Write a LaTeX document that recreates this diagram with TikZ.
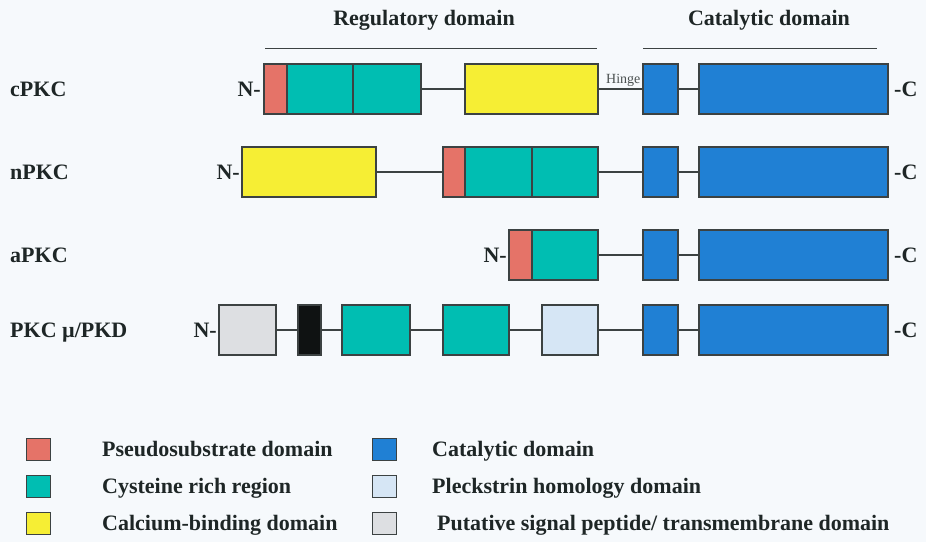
\documentclass[tikz,border=0pt]{standalone}
\usepackage{fontspec}
\setmainfont{Liberation Serif}
\definecolor{bgc}{RGB}{246,249,252}
\definecolor{txt}{RGB}{30,38,38}
\definecolor{psc}{RGB}{229,115,104}
\definecolor{cys}{RGB}{0,190,178}
\definecolor{cal}{RGB}{246,238,52}
\definecolor{cat}{RGB}{32,128,212}
\definecolor{phd}{RGB}{214,230,245}
\definecolor{sig}{RGB}{221,223,226}
\definecolor{blk}{RGB}{15,18,18}
\definecolor{edge}{RGB}{60,66,66}
\tikzset{
  dom/.style={draw=edge, line width=1.1pt, inner sep=0pt, outer sep=0pt, minimum height=50pt, anchor=west},
  sw/.style={draw=edge, line width=0.9pt, inner sep=0pt, outer sep=0pt, minimum width=24pt, minimum height=22pt},
  link/.style={draw=edge, line width=1.1pt},
  rule/.style={draw=edge, line width=0.9pt},
  lbl/.style={text=txt, font=\fontsize{22}{26}\selectfont\bfseries, inner sep=0pt},
  sml/.style={text=txt!80, font=\fontsize{14}{16}\selectfont, inner sep=0pt}
}
\begin{document}
\begin{tikzpicture}[x=1pt,y=-1pt]
\fill[bgc] (0,0) rectangle (926,542);
\path[use as bounding box] (0,0) rectangle (926,542);
% headers
\node[lbl, anchor=base] (hreg) at (424,25) {Regulatory domain};
\node[lbl, anchor=base] (hcat) at (769,25) {Catalytic domain};
\coordinate (r1) at (265,48); \coordinate (r2) at (597,48);
\coordinate (r3) at (643,48); \coordinate (r4) at (877,48);
\draw[rule] (r1) -- (r2);
\draw[rule] (r3) -- (r4);
% row labels
\node[lbl, anchor=base west] (lc) at (10,96) {cPKC};
\node[lbl, anchor=base west] (ln) at (10,179) {nPKC};
\node[lbl, anchor=base west] (la) at (10,262) {aPKC};
\node[lbl, anchor=base west] (lp) at (10,337) {PKC µ/PKD};
% cPKC
\node[lbl, anchor=base east] (cN) at (261,96) {N-};
\node[dom, fill=psc, minimum width=23pt] (cps) at (264,89) {};
\node[dom, fill=cys, minimum width=66pt] (cc1) at (287,89) {};
\node[dom, fill=cys, minimum width=68pt] (cc2) at (353,89) {};
\node[dom, fill=cal, minimum width=133pt] (ccal) at (465,89) {};
\node[dom, fill=cat, minimum width=35pt] (cb1) at (643,89) {};
\node[dom, fill=cat, minimum width=189pt] (cb2) at (699,89) {};
\node[lbl, anchor=base west] (cC) at (894,96) {-C};
\draw[link] (cc2.east) -- (ccal.west);
\draw[link] (ccal.east) -- (cb1.west);
\draw[link] (cb1.east) -- (cb2.west);
\node[sml, anchor=base west] (hinge) at (606,83) {Hinge};
% nPKC
\node[lbl, anchor=base east] (nN) at (240,179) {N-};
\node[dom, fill=cal, minimum width=134pt] (ncal) at (242,172) {};
\node[dom, fill=psc, minimum width=22pt] (nps) at (443,172) {};
\node[dom, fill=cys, minimum width=67pt] (nc1) at (465,172) {};
\node[dom, fill=cys, minimum width=66pt] (nc2) at (532,172) {};
\node[dom, fill=cat, minimum width=35pt] (nb1) at (643,172) {};
\node[dom, fill=cat, minimum width=189pt] (nb2) at (699,172) {};
\node[lbl, anchor=base west] (nC) at (894,179) {-C};
\draw[link] (ncal.east) -- (nps.west);
\draw[link] (nc2.east) -- (nb1.west);
\draw[link] (nb1.east) -- (nb2.west);
% aPKC
\node[lbl, anchor=base east] (aN) at (507,262) {N-};
\node[dom, fill=psc, minimum width=23pt] (aps) at (509,255) {};
\node[dom, fill=cys, minimum width=66pt] (ac) at (532,255) {};
\node[dom, fill=cat, minimum width=35pt] (ab1) at (643,255) {};
\node[dom, fill=cat, minimum width=189pt] (ab2) at (699,255) {};
\node[lbl, anchor=base west] (aC) at (894,262) {-C};
\draw[link] (ac.east) -- (ab1.west);
\draw[link] (ab1.east) -- (ab2.west);
% PKC mu / PKD
\node[lbl, anchor=base east] (pN) at (217,337) {N-};
\node[dom, fill=sig, minimum width=57pt] (pg) at (219,330) {};
\node[dom, fill=blk, minimum width=23pt] (pk) at (298,330) {};
\node[dom, fill=cys, minimum width=68pt] (pc1) at (342,330) {};
\node[dom, fill=cys, minimum width=66pt] (pc2) at (443,330) {};
\node[dom, fill=phd, minimum width=56pt] (pph) at (542,330) {};
\node[dom, fill=cat, minimum width=35pt] (pb1) at (643,330) {};
\node[dom, fill=cat, minimum width=189pt] (pb2) at (699,330) {};
\node[lbl, anchor=base west] (pC) at (894,337) {-C};
\draw[link] (pg.east) -- (pk.west);
\draw[link] (pk.east) -- (pc1.west);
\draw[link] (pc1.east) -- (pc2.west);
\draw[link] (pc2.east) -- (pph.west);
\draw[link] (pph.east) -- (pb1.west);
\draw[link] (pb1.east) -- (pb2.west);
% legend
\node[sw, fill=psc] (k1) at (38,449) {};
\node[sw, fill=cys] (k2) at (38,486) {};
\node[sw, fill=cal] (k3) at (38,523) {};
\node[sw, fill=cat] (k4) at (384,449) {};
\node[sw, fill=phd] (k5) at (384,486) {};
\node[sw, fill=sig] (k6) at (384,523) {};
\node[lbl, anchor=base west] (t1) at (102,456) {Pseudosubstrate domain};
\node[lbl, anchor=base west] (t2) at (102,493) {Cysteine rich region};
\node[lbl, anchor=base west] (t3) at (102,530) {Calcium-binding domain};
\node[lbl, anchor=base west] (t4) at (432,456) {Catalytic domain};
\node[lbl, anchor=base west] (t5) at (432,493) {Pleckstrin homology domain};
\node[lbl, anchor=base west] (t6) at (437,530) {Putative signal peptide/ transmembrane domain};
\end{tikzpicture}
\end{document}
